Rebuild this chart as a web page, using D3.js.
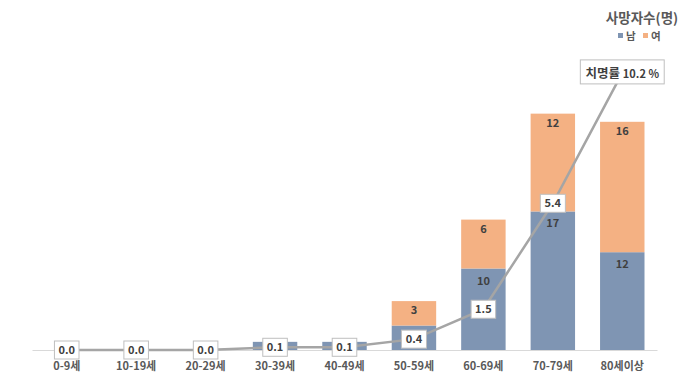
<!DOCTYPE html>
<meta charset="utf-8">
<style>
body { margin: 0; background: #fff; }
text { font-family: "Noto Sans CJK KR", "Noto Sans", sans-serif; }
.lbl { font-size: 11px; font-weight: bold; fill: #404040; }
.axisX text { font-size: 11px; font-weight: bold; fill: #595959; }
</style>
<script src="https://d3js.org/d3.v7.min.js"></script>
<body>
<script>
const ageGroups = ['0-9세', '10-19세', '20-29세', '30-39세', '40-49세', '50-59세', '60-69세', '70-79세', '80세이상'];
const male = [0, 0, 0, 1, 1, 3, 10, 17, 12];
const female = [0, 0, 0, 0, 0, 3, 6, 12, 16];
const fatality = [0.0, 0.0, 0.0, 0.1, 0.1, 0.4, 1.5, 5.4, 10.2];

const W = 680, H = 386;
const plotLeft = 32, plotRight = 657, base = 350, plotTop = 24;

const svg = d3.select('body').append('svg')
  .attr('width', W)
  .attr('height', H);

const x = d3.scaleBand()
  .domain(ageGroups)
  .range([plotLeft, plotRight])
  .paddingInner(0.36)
  .paddingOuter(0.18);

const y = d3.scaleLinear().domain([0, 40]).range([base, plotTop]);
const y2 = d3.scaleLinear().domain([0, 12]).range([base, plotTop]);

const colMale = '#7f95b3', colFemale = '#f4b183';

const rows = ageGroups.map((g, i) => ({ g, m: male[i], f: female[i], r: fatality[i] }));

// stacked bars
const bars = svg.append('g');
bars.selectAll('rect.m')
  .data(rows.filter(d => d.m > 0))
  .enter().append('rect')
    .attr('class', 'm')
    .attr('x', d => x(d.g))
    .attr('width', x.bandwidth())
    .attr('y', d => y(d.m))
    .attr('height', d => base - y(d.m))
    .style('fill', colMale);
bars.selectAll('rect.f')
  .data(rows.filter(d => d.f > 0))
  .enter().append('rect')
    .attr('class', 'f')
    .attr('x', d => x(d.g))
    .attr('width', x.bandwidth())
    .attr('y', d => y(d.m + d.f))
    .attr('height', d => y(d.m) - y(d.m + d.f))
    .style('fill', colFemale);

// bar value labels (inside end); small male segments are covered by the rate boxes
bars.selectAll('text.m')
  .data(rows.filter(d => base - y(d.m) > 30))
  .enter().append('text')
    .attr('class', 'lbl')
    .attr('x', d => x(d.g) + x.bandwidth() / 2)
    .attr('y', d => y(d.m) + 16)
    .attr('text-anchor', 'middle')
    .text(d => d.m);
bars.selectAll('text.f')
  .data(rows.filter(d => d.f > 0))
  .enter().append('text')
    .attr('class', 'lbl')
    .attr('x', d => x(d.g) + x.bandwidth() / 2)
    .attr('y', d => y(d.m + d.f) + 13)
    .attr('text-anchor', 'middle')
    .text(d => d.f);

// x axis
const ax = svg.append('g')
  .attr('class', 'axisX')
  .attr('transform', `translate(0, ${base})`)
  .call(d3.axisBottom(x).tickSize(0).tickPadding(12));
ax.select('.domain').attr('stroke', '#d9d9d9');

// fatality line
const cx = d => x(d.g) + x.bandwidth() / 2;
svg.append('path')
  .datum(rows)
  .attr('fill', 'none')
  .attr('stroke', '#a5a5a5')
  .attr('stroke-width', 2.5)
  .attr('d', d3.line().x(cx).y(d => y2(d.r)));

// line labels
const boxes = svg.append('g');
rows.forEach((d, i) => {
  if (i === rows.length - 1) return;
  const g = boxes.append('g').attr('transform', `translate(${cx(d)}, ${y2(d.r)})`);
  const t = g.append('text')
    .attr('class', 'lbl')
    .attr('text-anchor', 'middle')
    .attr('dy', '0.36em')
    .text(d.r.toFixed(1));
  const bb = t.node().getBBox();
  g.insert('rect', 'text')
    .attr('x', -bb.width / 2 - 4)
    .attr('y', -9)
    .attr('width', bb.width + 8)
    .attr('height', 18)
    .attr('fill', '#fff')
    .attr('stroke', '#bfbfbf');
});

// callout for last point
const last = rows[rows.length - 1];
const cg = svg.append('g').attr('transform', `translate(${cx(last)}, ${y2(last.r) - 1})`);
const ct = cg.append('text')
  .attr('text-anchor', 'middle')
  .attr('dy', '0.36em')
  .style('font-weight', 'bold')
  .style('fill', '#404040');
ct.append('tspan').style('font-size', '12.5px').text('치명률 ');
ct.append('tspan').style('font-size', '11px').text(last.r.toFixed(1) + ' %');
const cb = ct.node().getBBox();
cg.insert('rect', 'text')
  .attr('x', -cb.width / 2 - 5)
  .attr('y', -12)
  .attr('width', cb.width + 10)
  .attr('height', 24)
  .attr('fill', '#fff')
  .attr('stroke', '#bfbfbf');

// legend
svg.append('text')
  .attr('x', 642)
  .attr('y', 23)
  .attr('text-anchor', 'middle')
  .style('font-size', '13.5px')
  .style('font-weight', 'bold')
  .style('fill', '#595959')
  .text('사망자수(명)');
const leg = [['남', colMale], ['여', colFemale]];
leg.forEach((l, i) => {
  const lx = 618 + i * 25;
  svg.append('rect')
    .attr('x', lx)
    .attr('y', 33)
    .attr('width', 5)
    .attr('height', 5)
    .attr('fill', l[1]);
  svg.append('text')
    .attr('x', lx + 8)
    .attr('y', 40)
    .style('font-size', '10.5px')
    .style('font-weight', 'bold')
    .style('fill', '#595959')
    .text(l[0]);
});
</script>
</body>
</html>
